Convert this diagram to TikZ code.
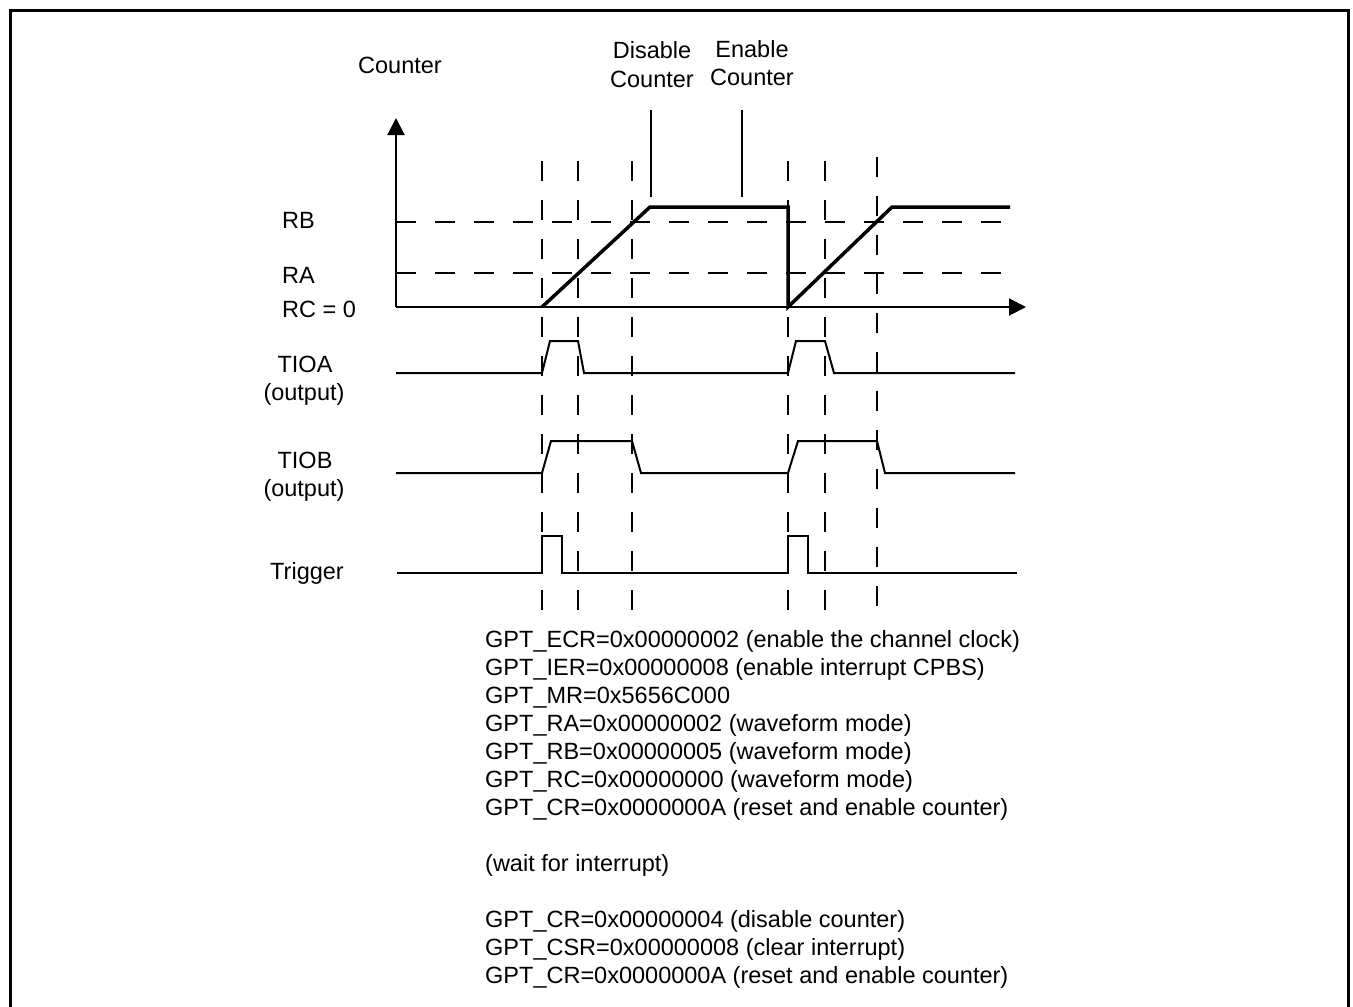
\documentclass[tikz,border=0pt]{standalone}
\usepackage{fontspec}
\setmainfont{Liberation Sans}
\usetikzlibrary{arrows.meta}
\begin{document}
\begin{tikzpicture}[x=1pt,y=-1pt,
  lbl/.style={inner sep=0pt,font=\fontsize{23.5}{28}\selectfont},
  guide/.style={line width=2pt,dash pattern=on 20pt off 19pt},
  trace/.style={line width=3.5pt},
  wave/.style={line width=2pt},
  axisline/.style={line width=2pt,-{Triangle[length=17pt,width=17pt]}},
  marker/.style={line width=2pt}]
\useasboundingbox (0,0) rectangle (1353,1007);
% frame
\draw[line width=3pt] (10,1007) -- (10,10) -- (1348,10) -- (1348,1007);

% labels
\node[lbl,anchor=base] (lcounter) at (400,73) {Counter};
\node[lbl,anchor=base] (ldis1) at (652,58) {Disable};
\node[lbl,anchor=base] (ldis2) at (652,87) {Counter};
\node[lbl,anchor=base] (len1) at (752,57) {Enable};
\node[lbl,anchor=base] (len2) at (752,85) {Counter};
\node[lbl,anchor=base west] (lrb) at (282,228) {RB};
\node[lbl,anchor=base west] (lra) at (282,283) {RA};
\node[lbl,anchor=base west] (lrc) at (282,317) {RC = 0};
\node[lbl,anchor=base] (ltioa) at (305,372) {TIOA};
\node[lbl,anchor=base] (ltioao) at (304,400) {(output)};
\node[lbl,anchor=base] (ltiob) at (305,468) {TIOB};
\node[lbl,anchor=base] (ltiobo) at (304,496) {(output)};
\node[lbl,anchor=base] (ltrig) at (307,579) {Trigger};

% guides
\foreach \x in {542,578,632,788,825}{
  \draw[guide] (\x,161) -- (\x,610);
}
\draw[guide] (877,157) -- (877,606);
\draw[guide] (396,222) -- (1003,222);
\draw[guide] (396,273) -- (1003,273);

% disable / enable markers
\draw[marker] (651,110) -- (651,197);
\draw[marker] (742,110) -- (742,197);

% axes
\coordinate (origin) at (396,307);
\coordinate (ytip) at (396,118);
\coordinate (xtip) at (1026,307);
\draw[axisline] (origin) -- (ytip);
\draw[axisline] (origin) -- (xtip);

% counter trace
\draw[trace] (542,307) -- (650,207) -- (788,207) -- (788,307) -- (892,207) -- (1010,207);

% TIOA
\draw[wave] (396,373) -- (542,373) -- (550,341) -- (578,341) -- (584,373) -- (788,373) -- (796,341) -- (825,341) -- (834,373) -- (1015,373);
% TIOB
\draw[wave] (396,473) -- (542,473) -- (551,441) -- (632,441) -- (641,473) -- (788,473) -- (798,441) -- (877,441) -- (885,473) -- (1015,473);
% Trigger
\draw[wave] (397,573) -- (542,573) -- (542,536) -- (562,536) -- (562,573) -- (788,573) -- (788,536) -- (808,536) -- (808,573) -- (1017,573);

% register text
\node[lbl,anchor=base west] (r1) at (485,647) {GPT\_ECR=0x00000002 (enable the channel clock)};
\node[lbl,anchor=base west] (r2) at (485,675) {GPT\_IER=0x00000008 (enable interrupt CPBS)};
\node[lbl,anchor=base west] (r3) at (485,703) {GPT\_MR=0x5656C000};
\node[lbl,anchor=base west] (r4) at (485,731) {GPT\_RA=0x00000002 (waveform mode)};
\node[lbl,anchor=base west] (r5) at (485,759) {GPT\_RB=0x00000005 (waveform mode)};
\node[lbl,anchor=base west] (r6) at (485,787) {GPT\_RC=0x00000000 (waveform mode)};
\node[lbl,anchor=base west] (r7) at (485,815) {GPT\_CR=0x0000000A (reset and enable counter)};
\node[lbl,anchor=base west] (r8) at (485,871) {(wait for interrupt)};
\node[lbl,anchor=base west] (r9) at (485,927) {GPT\_CR=0x00000004 (disable counter)};
\node[lbl,anchor=base west] (r10) at (485,955) {GPT\_CSR=0x00000008 (clear interrupt)};
\node[lbl,anchor=base west] (r11) at (485,983) {GPT\_CR=0x0000000A (reset and enable counter)};
\end{tikzpicture}
\end{document}
